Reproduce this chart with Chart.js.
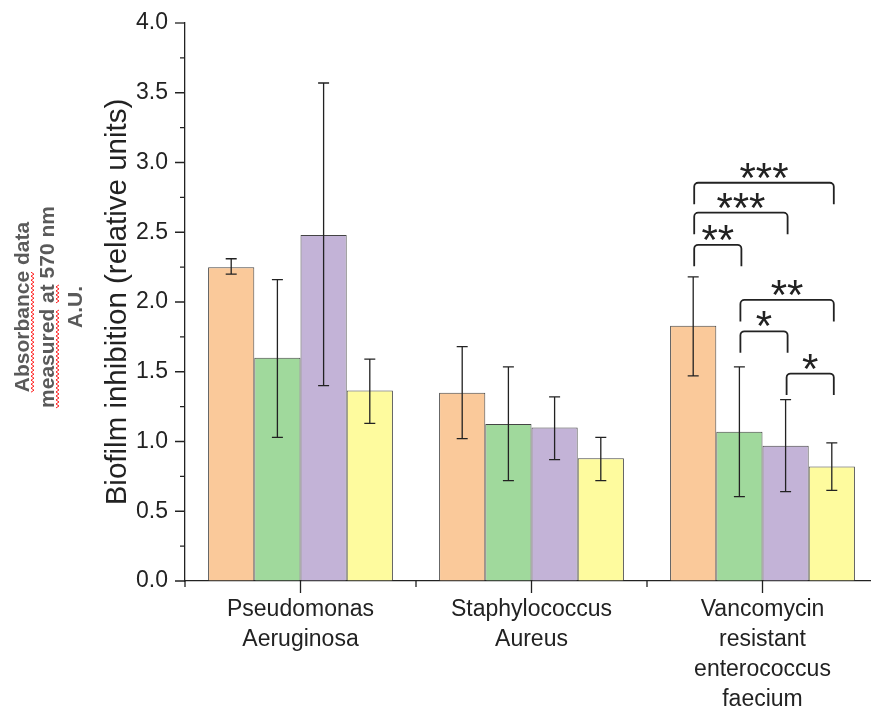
<!DOCTYPE html>
<html lang="en">
<head>
    <meta charset="UTF-8">
    <title>Biofilm inhibition</title>
    <script src="https://cdn.jsdelivr.net/npm/chart.js"></script>
    <style>
        html, body { margin: 0; padding: 0; overflow: hidden; background: #fff; }
    </style>
</head>
<body>
    <canvas id="grafico" width="880" height="711" style="display:block"></canvas>

    <script>
        // categories (multi-line labels)
        const categorias = [
            ['Pseudomonas', 'Aeruginosa'],
            ['Staphylococcus', 'Aureus'],
            ['Vancomycin', 'resistant', 'enterococcus', 'faecium']
        ];

        // bar means and error bar ends, one array per group
        const naranja = [2.25, 1.35, 1.83];
        const naranjaLo = [2.20, 1.02, 1.47];
        const naranjaHi = [2.31, 1.68, 2.18];

        const verde = [1.60, 1.125, 1.07];
        const verdeLo = [1.03, 0.72, 0.605];
        const verdeHi = [2.16, 1.535, 1.535];

        const morado = [2.48, 1.10, 0.97];
        const moradoLo = [1.40, 0.87, 0.64];
        const moradoHi = [3.57, 1.32, 1.30];

        const amarillo = [1.365, 0.88, 0.82];
        const amarilloLo = [1.13, 0.72, 0.65];
        const amarilloHi = [1.59, 1.03, 0.99];

        // significance brackets (all in the third category)
        const sigCat = [2, 2, 2, 2, 2, 2];
        const sigFrom = [0, 0, 0, 1, 1, 2];
        const sigTo = [3, 2, 1, 3, 2, 3];
        const sigY = [2.855, 2.64, 2.41, 2.015, 1.79, 1.487];
        const sigLabel = ['***', '***', '**', '**', '*', '*'];

        const yTicks = [0, 0.5, 1.0, 1.5, 2.0, 2.5, 3.0, 3.5, 4.0];

        const errores = [
            [naranjaLo, naranjaHi],
            [verdeLo, verdeHi],
            [moradoLo, moradoHi],
            [amarilloLo, amarilloHi]
        ];

        const ink = '#222';

        const extras = {
            id: 'extras',
            afterDatasetsDraw(chart) {
                const ctx = chart.ctx;
                const x = chart.scales.x;
                const y = chart.scales.y;
                const area = chart.chartArea;
                ctx.save();
                ctx.strokeStyle = ink;
                ctx.lineWidth = 1.3;

                // error bars
                errores.forEach((par, d) => {
                    const meta = chart.getDatasetMeta(d);
                    meta.data.forEach((bar, i) => {
                        const yl = y.getPixelForValue(par[0][i]);
                        const yh = y.getPixelForValue(par[1][i]);
                        ctx.beginPath();
                        ctx.moveTo(bar.x, yl); ctx.lineTo(bar.x, yh);
                        ctx.moveTo(bar.x - 5.5, yl); ctx.lineTo(bar.x + 5.5, yl);
                        ctx.moveTo(bar.x - 5.5, yh); ctx.lineTo(bar.x + 5.5, yh);
                        ctx.stroke();
                    });
                });

                // y ticks, major and minor
                yTicks.forEach((v, k) => {
                    const py = y.getPixelForValue(v);
                    ctx.beginPath();
                    ctx.moveTo(area.left - 10, py); ctx.lineTo(area.left, py);
                    if (k < yTicks.length - 1) {
                        const pm = y.getPixelForValue(v + 0.25);
                        ctx.moveTo(area.left - 5, pm); ctx.lineTo(area.left, pm);
                    }
                    ctx.stroke();
                });

                // x ticks: centres long, boundaries short
                const half = (x.getPixelForValue(1) - x.getPixelForValue(0)) / 2;
                categorias.forEach((c, i) => {
                    const px = x.getPixelForValue(i);
                    ctx.beginPath();
                    ctx.moveTo(px, area.bottom); ctx.lineTo(px, area.bottom + 12);
                    ctx.moveTo(px - half, area.bottom); ctx.lineTo(px - half, area.bottom + 6);
                    ctx.stroke();
                });

                // significance brackets
                ctx.lineWidth = 1.8;
                const r = 4;
                sigY.forEach((v, k) => {
                    const a = chart.getDatasetMeta(sigFrom[k]).data[sigCat[k]].x + 1;
                    const b = chart.getDatasetMeta(sigTo[k]).data[sigCat[k]].x + 2;
                    const top = y.getPixelForValue(v);
                    const bot = top + 21.5;
                    ctx.beginPath();
                    ctx.moveTo(a, bot);
                    ctx.arcTo(a, top, b, top, r);
                    ctx.arcTo(b, top, b, bot, r);
                    ctx.lineTo(b, bot);
                    ctx.stroke();
                    ctx.fillStyle = ink;
                    ctx.font = '42px "Liberation Sans", Arial, sans-serif';
                    ctx.textAlign = 'center';
                    ctx.textBaseline = 'alphabetic';
                    ctx.fillText(sigLabel[k], (a + b) / 2, top + 9);
                });
                ctx.restore();
            },
            afterDraw(chart) {
                // grey side note with spell-check squiggles
                const ctx = chart.ctx;
                const lineas = [
                    { t: 'Absorbance data', marcas: ['Absorbance'] },
                    { t: 'measured at 570 nm', marcas: ['measured', 'at'] },
                    { t: 'A.U.', marcas: [] }
                ];
                const bases = [28.5, 53.5, 81.5];
                ctx.save();
                ctx.font = 'bold 21px "Liberation Sans", Arial, sans-serif';
                ctx.fillStyle = '#5a5a5a';
                lineas.forEach((ln, k) => {
                    ctx.save();
                    ctx.translate(bases[k], 307);
                    ctx.rotate(-Math.PI / 2);
                    const w = ctx.measureText(ln.t).width;
                    const x0 = -w / 2;
                    ctx.textAlign = 'left';
                    ctx.fillText(ln.t, x0, 0);
                    ctx.strokeStyle = '#ff2020';
                    ctx.lineWidth = 1;
                    ln.marcas.forEach(m => {
                        const i = ln.t.indexOf(m);
                        const s = x0 + ctx.measureText(ln.t.slice(0, i)).width;
                        const e = s + ctx.measureText(m).width;
                        ctx.beginPath();
                        for (let p = s, n = 0; p <= e; p += 2, n++) {
                            const yy = 4 + (n % 2 ? 1.5 : -1.5);
                            if (n === 0) ctx.moveTo(p, yy); else ctx.lineTo(p, yy);
                        }
                        ctx.stroke();
                    });
                    ctx.restore();
                });
                ctx.restore();
            }
        };

        const ctx = document.getElementById('grafico').getContext('2d');
        const fuente = { family: '"Liberation Sans", Arial, sans-serif', size: 23 };

        const grafico = new Chart(ctx, {
            type: 'bar',
            data: {
                labels: categorias,
                datasets: [
                    { label: 'Grupo 1', data: naranja, backgroundColor: '#fac99a' },
                    { label: 'Grupo 2', data: verde, backgroundColor: '#a0d99c' },
                    { label: 'Grupo 3', data: morado, backgroundColor: '#c3b3d7' },
                    { label: 'Grupo 4', data: amarillo, backgroundColor: '#fefb9e' }
                ].map(d => Object.assign(d, {
                    borderColor: '#444',
                    borderWidth: 1,
                    categoryPercentage: 0.8,
                    barPercentage: 1.0
                }))
            },
            options: {
                responsive: false,
                animation: false,
                devicePixelRatio: 1,
                layout: { padding: { left: 90, top: 23, right: 2, bottom: 0 } },
                plugins: {
                    legend: { display: false },
                    tooltip: { enabled: false }
                },
                scales: {
                    x: {
                        offset: true,
                        grid: { offset: true, drawOnChartArea: false, drawTicks: false },
                        border: { color: ink, width: 1.3 },
                        ticks: {
                            font: Object.assign({ lineHeight: 1.3 }, fuente),
                            color: ink,
                            padding: 14,
                            maxRotation: 0,
                            autoSkip: false
                        },
                        afterFit: s => { s.height = 130; }
                    },
                    y: {
                        min: 0,
                        max: 4,
                        // invisible tick marks only push the labels out; real ticks are drawn by the plugin
                        grid: { drawOnChartArea: false, drawTicks: true, tickLength: 17, tickColor: 'rgba(0,0,0,0)' },
                        border: { color: ink, width: 1.3 },
                        ticks: {
                            stepSize: 0.5,
                            callback: v => v.toFixed(1),
                            font: fuente,
                            color: ink,
                            padding: 0
                        },
                        title: {
                            display: true,
                            text: 'Biofilm inhibition (relative units)',
                            font: { family: fuente.family, size: 29.5 },
                            color: ink,
                            padding: { top: 10, bottom: 0 }
                        },
                        afterFit: s => { s.width = 95; }
                    }
                }
            },
            plugins: [extras]
        });
    </script>
</body>
</html>
